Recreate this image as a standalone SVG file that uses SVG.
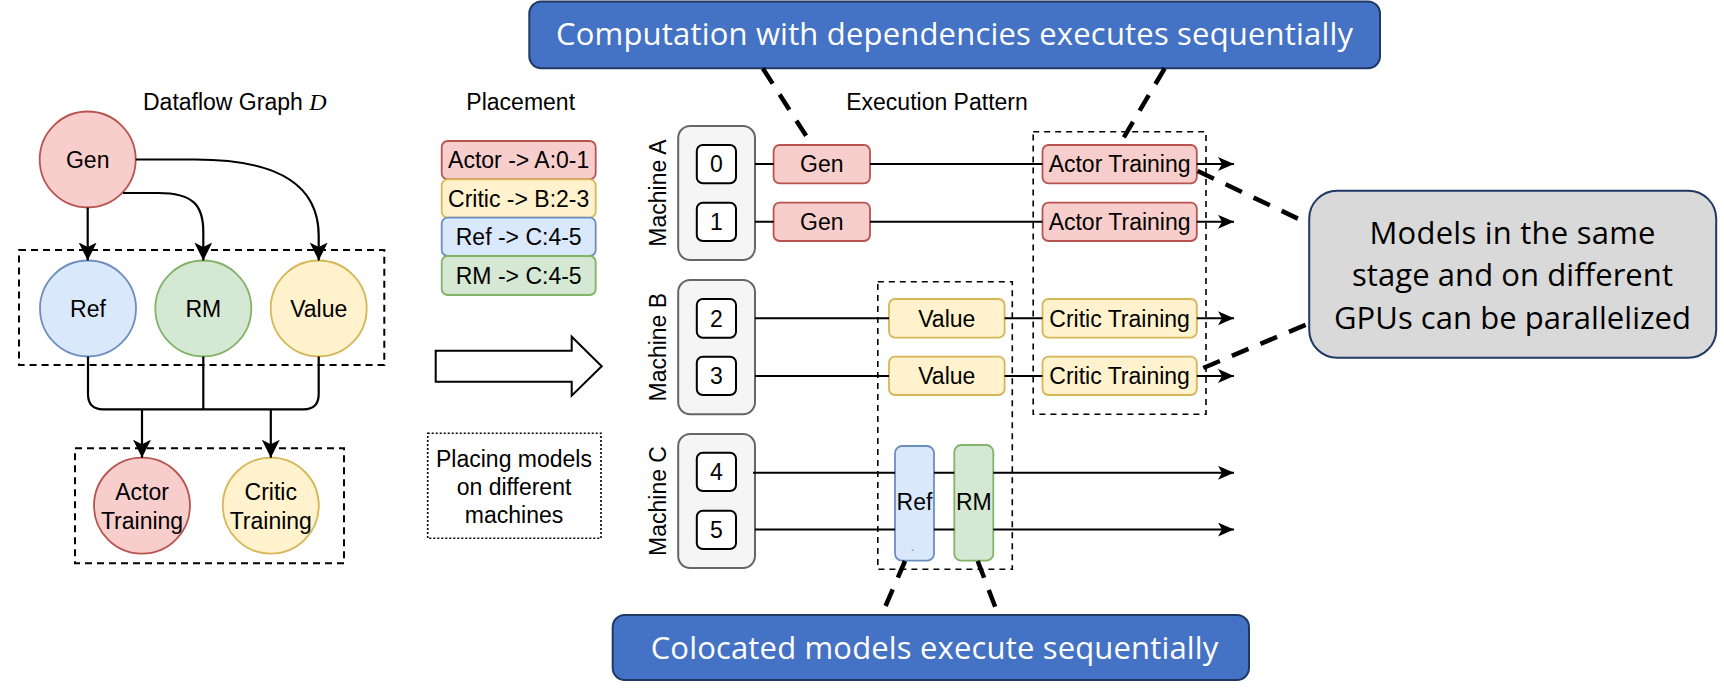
<svg xmlns="http://www.w3.org/2000/svg" width="1724" height="694" viewBox="0 0 1724 694">
<style>
  text { font-family: "Liberation Sans", Arial, sans-serif; fill: #000; }
  .lbl { font-size: 23px; text-anchor: middle; }
  .t22 { font-size: 23px; text-anchor: middle; }
  .call { font-family: "Open Sans", "Liberation Sans", sans-serif; font-size: 31px; text-anchor: middle; }
  .white { fill: #ffffff; }
  .red { fill: #f8cecc; stroke: #b85450; stroke-width: 1.8; }
  .yel { fill: #fff2cc; stroke: #d6b656; stroke-width: 1.8; }
  .blu { fill: #dae8fc; stroke: #6c8ebf; stroke-width: 1.8; }
  .grn { fill: #d5e8d4; stroke: #82b366; stroke-width: 1.8; }
  .mach { fill: #f5f5f5; stroke: #666666; stroke-width: 2; }
  .gpu { fill: #ffffff; stroke: #000; stroke-width: 2; }
  .grp { fill: none; stroke: #000; stroke-width: 2; stroke-dasharray: 7 5; }
  .grp2 { fill: none; stroke: #000; stroke-width: 1.6; stroke-dasharray: 6 5; }
  .dot { fill: none; stroke: #000; stroke-width: 1.6; stroke-dasharray: 2 2; }
  .edge { fill: none; stroke: #000; stroke-width: 2.2; }
  .row { fill: none; stroke: #000; stroke-width: 2; }
  .thick { fill: none; stroke: #000; stroke-width: 4.5; stroke-dasharray: 18 13; }
  .bluebox { fill: #4472c4; stroke: #1f3864; stroke-width: 2; }
</style>
<defs>
  <marker id="arrL" markerUnits="userSpaceOnUse" markerWidth="19" markerHeight="19" refX="18" refY="9" orient="auto">
    <path d="M0,0 L18,9 L0,18 L4.5,9 Z" fill="#000"/>
  </marker>
  <marker id="arrR" markerUnits="userSpaceOnUse" markerWidth="17" markerHeight="15" refX="16" refY="7" orient="auto">
    <path d="M0,0 L16,7 L0,14 L4,7 Z" fill="#000"/>
  </marker>
</defs>

<!-- Titles -->
<g id="title-dataflow"><text x="143" y="110" style="font-size:23px">Dataflow Graph <tspan style="font-family:'Liberation Serif','Times New Roman',serif;font-style:italic;font-size:24px">D</tspan></text></g>
<g id="title-placement"><text class="lbl" x="520.7" y="110">Placement</text></g>
<g id="title-execution"><text class="lbl" x="937" y="110">Execution Pattern</text></g>

<!-- Group boxes -->
<g id="group-stage2"><rect class="grp" x="19" y="250" width="365.3" height="115"/></g>
<g id="group-stage3"><rect class="grp" x="75" y="448.3" width="269" height="115"/></g>
<g id="group-colocated"><rect class="grp2" x="877.8" y="281.7" width="134.5" height="287.6"/></g>
<g id="group-parallel"><rect class="grp2" x="1033.2" y="131.7" width="172.8" height="282.6"/></g>

<!-- Dataflow graph nodes -->
<g id="node-gen"><circle class="red" cx="87.7" cy="159.5" r="48"/><text class="t22" x="87.7" y="167.6">Gen</text></g>
<g id="node-ref"><circle class="blu" cx="88" cy="308.5" r="48"/><text class="t22" x="88" y="316.6">Ref</text></g>
<g id="node-rm"><circle class="grn" cx="203.3" cy="308.5" r="48"/><text class="t22" x="203.3" y="316.6">RM</text></g>
<g id="node-value"><circle class="yel" cx="318.7" cy="308.5" r="48"/><text class="t22" x="318.7" y="316.6">Value</text></g>
<g id="node-actor-training"><circle class="red" cx="142" cy="505.7" r="48"/><text class="t22" x="142" y="500">Actor</text><text class="t22" x="142" y="529">Training</text></g>
<g id="node-critic-training"><circle class="yel" cx="270.8" cy="505.7" r="48"/><text class="t22" x="270.8" y="500">Critic</text><text class="t22" x="270.8" y="529">Training</text></g>

<!-- Placement table -->
<g id="placement-actor"><rect class="red" x="441.7" y="141" width="154" height="38.3" rx="6"/><text class="t22" x="518.7" y="168.3">Actor -&gt; A:0-1</text></g>
<g id="placement-critic"><rect class="yel" x="441.7" y="179.3" width="154" height="38.4" rx="6"/><text class="t22" x="518.7" y="206.7">Critic -&gt; B:2-3</text></g>
<g id="placement-ref"><rect class="blu" x="441.7" y="217.7" width="154" height="38.3" rx="6"/><text class="t22" x="518.7" y="245">Ref -&gt; C:4-5</text></g>
<g id="placement-rm"><rect class="grn" x="441.7" y="256" width="154" height="39" rx="6"/><text class="t22" x="518.7" y="283.6">RM -&gt; C:4-5</text></g>

<!-- Block arrow -->
<g id="block-arrow"><polygon points="435.7,350.7 571.7,350.7 571.7,336.7 601.7,366.2 571.7,395.7 571.7,381.7 435.7,381.7" fill="#fff" stroke="#000" stroke-width="2"/></g>

<!-- Note -->
<g id="note-placing">
  <rect class="dot" x="427.7" y="433.3" width="173.3" height="105"/>
  <text class="lbl" x="514" y="467.3">Placing models</text>
  <text class="lbl" x="514" y="495">on different</text>
  <text class="lbl" x="514" y="523">machines</text>
</g>

<!-- Machines -->
<g id="machine-a">
  <rect class="mach" x="678.2" y="126" width="76.8" height="134" rx="12"/>
  <text class="t22" transform="translate(665.8,193) rotate(-90)">Machine A</text>
</g>
<g id="machine-b">
  <rect class="mach" x="678.2" y="280" width="76.8" height="134.3" rx="12"/>
  <text class="t22" transform="translate(665.8,347.2) rotate(-90)">Machine B</text>
</g>
<g id="machine-c">
  <rect class="mach" x="678.2" y="434" width="76.8" height="134" rx="12"/>
  <text class="t22" transform="translate(665.8,501) rotate(-90)">Machine C</text>
</g>
<g id="gpu-0"><rect class="gpu" x="696.8" y="145" width="39.2" height="38.3" rx="6"/><text class="t22" x="716.4" y="172.3">0</text></g>
<g id="gpu-1"><rect class="gpu" x="696.8" y="202.7" width="39.2" height="38.3" rx="6"/><text class="t22" x="716.4" y="230">1</text></g>
<g id="gpu-2"><rect class="gpu" x="696.8" y="299" width="39.2" height="38.7" rx="6"/><text class="t22" x="716.4" y="326.5">2</text></g>
<g id="gpu-3"><rect class="gpu" x="696.8" y="356.7" width="39.2" height="38.3" rx="6"/><text class="t22" x="716.4" y="384">3</text></g>
<g id="gpu-4"><rect class="gpu" x="696.8" y="452.7" width="39.2" height="38.3" rx="6"/><text class="t22" x="716.4" y="480">4</text></g>
<g id="gpu-5"><rect class="gpu" x="696.8" y="510.7" width="39.2" height="38.3" rx="6"/><text class="t22" x="716.4" y="538">5</text></g>

<!-- Execution tasks -->
<g id="exec-gen-0"><rect class="red" x="773.6" y="145" width="96.4" height="38.3" rx="6"/><text class="t22" x="821.8" y="172.3">Gen</text></g>
<g id="exec-gen-1"><rect class="red" x="773.6" y="202.7" width="96.4" height="38.3" rx="6"/><text class="t22" x="821.8" y="230">Gen</text></g>
<g id="exec-actor-0"><rect class="red" x="1042.5" y="145" width="154.3" height="38.3" rx="6"/><text class="t22" x="1119.6" y="172.3">Actor Training</text></g>
<g id="exec-actor-1"><rect class="red" x="1042.5" y="202.7" width="154.3" height="38.3" rx="6"/><text class="t22" x="1119.6" y="230">Actor Training</text></g>
<g id="exec-value-2"><rect class="yel" x="889" y="299" width="115.6" height="38.7" rx="6"/><text class="t22" x="946.8" y="326.5">Value</text></g>
<g id="exec-value-3"><rect class="yel" x="889" y="356.7" width="115.6" height="38.3" rx="6"/><text class="t22" x="946.8" y="384">Value</text></g>
<g id="exec-critic-2"><rect class="yel" x="1042.5" y="299" width="154.3" height="38.7" rx="6"/><text class="t22" x="1119.6" y="326.5">Critic Training</text></g>
<g id="exec-critic-3"><rect class="yel" x="1042.5" y="356.7" width="154.3" height="38.3" rx="6"/><text class="t22" x="1119.6" y="384">Critic Training</text></g>
<g id="exec-ref"><rect class="blu" x="895" y="446" width="39" height="114.7" rx="7"/><text class="t22" x="914.5" y="510">Ref</text><text x="911" y="558" style="font-size:10px;fill:#555">`</text></g>
<g id="exec-rm"><rect class="grn" x="954.3" y="445" width="39" height="115.7" rx="7"/><text class="t22" x="973.8" y="510">RM</text></g>

<!-- Callouts -->
<g id="callout-dependencies">
  <rect class="bluebox" x="529.3" y="1.5" width="850.7" height="66.8" rx="12"/>
  <text class="call white" x="954.5" y="45" textLength="797">Computation with dependencies executes sequentially</text>
</g>
<g id="callout-colocated">
  <rect class="bluebox" x="612.7" y="615" width="636.3" height="65" rx="12"/>
  <text class="call white" x="934.5" y="659" textLength="567.7">Colocated models execute sequentially</text>
</g>
<g id="callout-parallel">
  <rect x="1309.2" y="190.7" width="407" height="167" rx="28" fill="#d9d9d9" stroke="#1f3864" stroke-width="2"/>
  <text class="call" x="1512.5" y="243.5" textLength="286">Models in the same</text>
  <text class="call" x="1512.5" y="286" textLength="321">stage and on different</text>
  <text class="call" x="1512.5" y="328.5" textLength="357">GPUs can be parallelized</text>
</g>

<!-- Connectors -->
<g id="connectors">
  <path class="edge" d="M87.7,207.5 L87.7,260.5" marker-end="url(#arrL)"/>
  <path class="edge" d="M123,193 L158,193 C193,193 203.3,205 203.3,232 L203.3,260.5" marker-end="url(#arrL)"/>
  <path class="edge" d="M135.7,159.5 L195,159.5 C282,159.5 318.7,187 318.7,236 L318.7,260.5" marker-end="url(#arrL)"/>
  <path class="edge" d="M88,356.5 L88,394 Q88,409.3 103,409.3 L303.7,409.3 Q318.7,409.3 318.7,394 L318.7,356.5"/>
  <path class="edge" d="M203.3,356.5 L203.3,409.3"/>
  <path class="edge" d="M142,409.3 L142,457.7" marker-end="url(#arrL)"/>
  <path class="edge" d="M270.8,409.3 L270.8,457.7" marker-end="url(#arrL)"/>
  <path class="row" d="M755,164 H773.6 M870,164 H1042.5"/>
  <path class="row" d="M1196.8,164 H1234" marker-end="url(#arrR)"/>
  <path class="row" d="M755,221.8 H773.6 M870,221.8 H1042.5"/>
  <path class="row" d="M1196.8,221.8 H1234" marker-end="url(#arrR)"/>
  <path class="row" d="M755,318.3 H889 M1004.6,318.3 H1042.5"/>
  <path class="row" d="M1196.8,318.3 H1234" marker-end="url(#arrR)"/>
  <path class="row" d="M755,375.9 H889 M1004.6,375.9 H1042.5"/>
  <path class="row" d="M1196.8,375.9 H1234" marker-end="url(#arrR)"/>
  <path class="row" d="M753,472.8 H895 M934,472.8 H954.3"/>
  <path class="row" d="M993.3,472.8 H1234" marker-end="url(#arrR)"/>
  <path class="row" d="M755,529.6 H895 M934,529.6 H954.3"/>
  <path class="row" d="M993.3,529.6 H1234" marker-end="url(#arrR)"/>
  <path class="thick" d="M762.9,68.5 L812,145"/>
  <path class="thick" d="M1164.6,68.5 L1119.3,145"/>
  <path class="thick" d="M1197.6,171 L1309.2,224"/>
  <path class="thick" d="M1203.3,368 L1309.2,323.3"/>
  <path class="thick" d="M905,561 L881.7,615"/>
  <path class="thick" d="M977.7,561 L998.3,615"/>
</g>
</svg>
